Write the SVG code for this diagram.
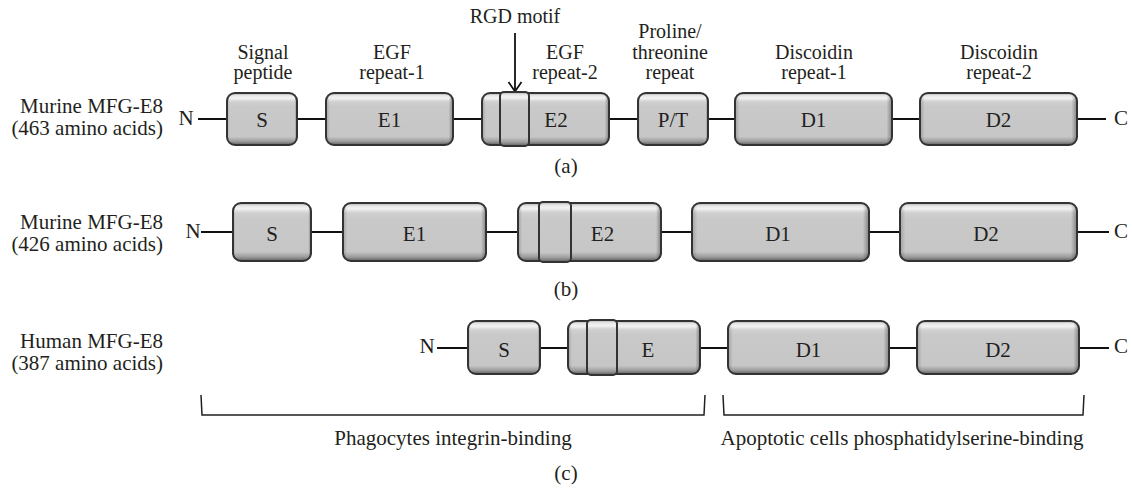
<svg xmlns="http://www.w3.org/2000/svg" width="1132" height="489" viewBox="0 0 1132 489">
<style>
text{font-family:"Liberation Serif","Times New Roman",serif;font-size:21px;fill:#231f20}
.hd{font-size:20px}
.m{text-anchor:middle}
.e{text-anchor:end}
.bx{fill:url(#gv);stroke:none}
.sh{fill:url(#gh);stroke:#333;stroke-width:2}
.ln{stroke:#111;stroke-width:2;fill:none}
.br{stroke:#231f20;stroke-width:1.5;fill:none}
.ar{stroke:#111;stroke-width:1.8;fill:none}
</style>
<defs>
<linearGradient id="gv" x1="0" y1="0" x2="0" y2="1">
<stop offset="0" stop-color="#a8a8a8"/>
<stop offset="0.05" stop-color="#e6e6e6"/>
<stop offset="0.1" stop-color="#f2f2f2"/>
<stop offset="0.17" stop-color="#d0d0d0"/>
<stop offset="0.26" stop-color="#c9c9c9"/>
<stop offset="0.84" stop-color="#c6c6c6"/>
<stop offset="0.93" stop-color="#9c9c9c"/>
<stop offset="1" stop-color="#5e5e5e"/>
</linearGradient>
<linearGradient id="gh" x1="0" y1="0" x2="1" y2="0">
<stop offset="0" stop-color="#000" stop-opacity="0.2"/>
<stop offset="0.03" stop-color="#000" stop-opacity="0"/>
<stop offset="0.965" stop-color="#000" stop-opacity="0"/>
<stop offset="1" stop-color="#000" stop-opacity="0.35"/>
</linearGradient>
</defs>

<g id="connectors">
<line class="ln" x1="198" y1="119" x2="227" y2="119"/>
<line class="ln" x1="297" y1="119" x2="326" y2="119"/>
<line class="ln" x1="453" y1="119" x2="482" y2="119"/>
<line class="ln" x1="609" y1="119" x2="638" y2="119"/>
<line class="ln" x1="708" y1="119" x2="735" y2="119"/>
<line class="ln" x1="892" y1="119" x2="920" y2="119"/>
<line class="ln" x1="1077" y1="119" x2="1106" y2="119"/>

<line class="ln" x1="201" y1="232" x2="233" y2="232"/>
<line class="ln" x1="311" y1="232" x2="343" y2="232"/>
<line class="ln" x1="486" y1="232" x2="518" y2="232"/>
<line class="ln" x1="661" y1="232" x2="692" y2="232"/>
<line class="ln" x1="869" y1="232" x2="900" y2="232"/>
<line class="ln" x1="1077" y1="232" x2="1109" y2="232"/>

<line class="ln" x1="437" y1="348" x2="468" y2="348"/>
<line class="ln" x1="540" y1="348" x2="568" y2="348"/>
<line class="ln" x1="700" y1="348" x2="728" y2="348"/>
<line class="ln" x1="889" y1="348" x2="917" y2="348"/>
<line class="ln" x1="1079" y1="348" x2="1109" y2="348"/>

<line class="ar" x1="515" y1="33" x2="515" y2="91"/>
<polyline class="ar" points="508.5,82 515,91.5 521.5,82"/>
</g>

<g id="headers">
<text class="m hd" x="263" y="59">Signal</text>
<text class="m hd" x="263" y="79">peptide</text>
<text class="m hd" x="392" y="59">EGF</text>
<text class="m hd" x="392" y="79">repeat-1</text>
<text class="m hd" x="515" y="23">RGD motif</text>
<text class="m hd" x="565" y="59">EGF</text>
<text class="m hd" x="565" y="79">repeat-2</text>
<text class="m hd" x="670" y="38">Proline/</text>
<text class="m hd" x="670" y="59">threonine</text>
<text class="m hd" x="670" y="79">repeat</text>
<text class="m hd" x="814" y="59">Discoidin</text>
<text class="m hd" x="814" y="79">repeat-1</text>
<text class="m hd" x="999" y="59">Discoidin</text>
<text class="m hd" x="999" y="79">repeat-2</text>
</g>

<g id="row-a">
<text class="e" x="163" y="113">Murine MFG-E8</text>
<text class="e" x="163" y="135">(463 amino acids)</text>
<text class="m" x="186" y="125">N</text>
<text class="m" x="1121" y="125">C</text>
<text class="m" x="566" y="173">(a)</text>
</g>
<g id="a-S"><rect class="bx" x="227" y="93" width="70" height="52" rx="8"/><rect class="sh" x="227" y="93" width="70" height="52" rx="8"/><text class="m" x="262" y="127">S</text></g>
<g id="a-E1"><rect class="bx" x="326" y="93" width="127" height="52" rx="8"/><rect class="sh" x="326" y="93" width="127" height="52" rx="8"/><text class="m" x="389.5" y="127">E1</text></g>
<g id="a-E2"><rect class="bx" x="482" y="93" width="127" height="52" rx="8"/><rect class="sh" x="482" y="93" width="127" height="52" rx="8"/><rect class="bx" x="500" y="92" width="29" height="54" rx="4"/><rect class="sh" x="500" y="92" width="29" height="54" rx="4"/><text class="m" x="556" y="127">E2</text></g>
<g id="a-PT"><rect class="bx" x="638" y="93" width="70" height="52" rx="8"/><rect class="sh" x="638" y="93" width="70" height="52" rx="8"/><text class="m" x="673" y="127">P/T</text></g>
<g id="a-D1"><rect class="bx" x="735" y="93" width="157" height="52" rx="8"/><rect class="sh" x="735" y="93" width="157" height="52" rx="8"/><text class="m" x="813.5" y="127">D1</text></g>
<g id="a-D2"><rect class="bx" x="920" y="93" width="157" height="52" rx="8"/><rect class="sh" x="920" y="93" width="157" height="52" rx="8"/><text class="m" x="998.5" y="127">D2</text></g>

<g id="row-b">
<text class="e" x="163" y="229">Murine MFG-E8</text>
<text class="e" x="163" y="251">(426 amino acids)</text>
<text class="m" x="193" y="238">N</text>
<text class="m" x="1121" y="238">C</text>
<text class="m" x="566" y="296">(b)</text>
</g>
<g id="b-S"><rect class="bx" x="233" y="203" width="78" height="58" rx="8"/><rect class="sh" x="233" y="203" width="78" height="58" rx="8"/><text class="m" x="272" y="241">S</text></g>
<g id="b-E1"><rect class="bx" x="343" y="203" width="143" height="58" rx="8"/><rect class="sh" x="343" y="203" width="143" height="58" rx="8"/><text class="m" x="414.5" y="241">E1</text></g>
<g id="b-E2"><rect class="bx" x="518" y="203" width="143" height="58" rx="8"/><rect class="sh" x="518" y="203" width="143" height="58" rx="8"/><rect class="bx" x="539" y="202" width="32" height="60" rx="4"/><rect class="sh" x="539" y="202" width="32" height="60" rx="4"/><text class="m" x="602.5" y="241">E2</text></g>
<g id="b-D1"><rect class="bx" x="692" y="203" width="177" height="58" rx="8"/><rect class="sh" x="692" y="203" width="177" height="58" rx="8"/><text class="m" x="778" y="241">D1</text></g>
<g id="b-D2"><rect class="bx" x="900" y="203" width="177" height="58" rx="8"/><rect class="sh" x="900" y="203" width="177" height="58" rx="8"/><text class="m" x="986" y="241">D2</text></g>

<g id="row-c">
<text class="e" x="163" y="348">Human MFG-E8</text>
<text class="e" x="163" y="370">(387 amino acids)</text>
<text class="m" x="427" y="353">N</text>
<text class="m" x="1121" y="353">C</text>
</g>
<g id="c-S"><rect class="bx" x="468" y="321" width="72" height="53" rx="8"/><rect class="sh" x="468" y="321" width="72" height="53" rx="8"/><text class="m" x="504" y="357">S</text></g>
<g id="c-E"><rect class="bx" x="568" y="321" width="132" height="53" rx="8"/><rect class="sh" x="568" y="321" width="132" height="53" rx="8"/><rect class="bx" x="587" y="320" width="30" height="55" rx="4"/><rect class="sh" x="587" y="320" width="30" height="55" rx="4"/><text class="m" x="648" y="357">E</text></g>
<g id="c-D1"><rect class="bx" x="728" y="321" width="161" height="53" rx="8"/><rect class="sh" x="728" y="321" width="161" height="53" rx="8"/><text class="m" x="808.5" y="357">D1</text></g>
<g id="c-D2"><rect class="bx" x="917" y="321" width="162" height="53" rx="8"/><rect class="sh" x="917" y="321" width="162" height="53" rx="8"/><text class="m" x="998" y="357">D2</text></g>

<g id="bracket-integrin">
<path class="br" d="M201,395 L202,415 L704,415 L705,395"/>
<text class="m" x="453" y="445">Phagocytes integrin-binding</text>
</g>
<g id="bracket-ps">
<path class="br" d="M723,395 L724,415 L1083,415 L1084,395"/>
<text class="m" x="902" y="445">Apoptotic cells phosphatidylserine-binding</text>
</g>
<text class="m" x="566" y="480">(c)</text>
</svg>
